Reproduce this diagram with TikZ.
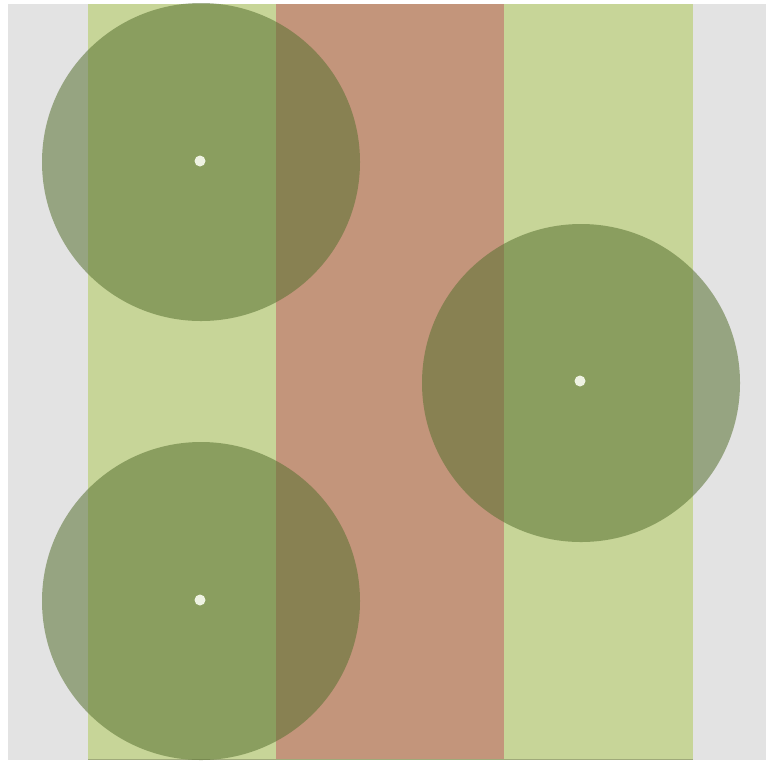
\documentclass[tikz,border=0pt]{standalone}
\usepackage{xcolor}
\usepackage{tikz}
\definecolor{fog}{HTML}{E3E3E3}
\definecolor{meadow}{HTML}{C7D598}
\definecolor{clay}{HTML}{C3957B}
\definecolor{moss}{HTML}{587131}
\definecolor{seed}{HTML}{EEF2E2}
\tikzset{
  strip/.style={fill=#1},
  crown/.style={fill=moss,fill opacity=0.55},
  stem/.style={fill=seed},
}
\begin{document}
\begin{tikzpicture}[x=0.02cm,y=-0.02cm]
    \useasboundingbox (0,0) rectangle (766,762);
    \fill[white] (0,0) rectangle (766,762);
    \fill[fog] (8,4) rectangle (766,760);
    \fill[strip=meadow] (88,4) rectangle (276,760);
    \fill[strip=clay] (276,4) rectangle (504,760);
    \fill[strip=meadow] (504,4) rectangle (693,760);
    \draw[meadow!80!black,line width=0.5pt] (88,759.5) -- (693,759.5);
    \fill[crown] (201,162) circle (159);
    \fill[crown] (581,383) circle (159);
    \fill[crown] (201,601) circle (159);
    \fill[stem] (200,161) circle (5.5);
    \fill[stem] (580,381) circle (5.5);
    \fill[stem] (200,600) circle (5.5);
  \end{tikzpicture}
\end{document}
